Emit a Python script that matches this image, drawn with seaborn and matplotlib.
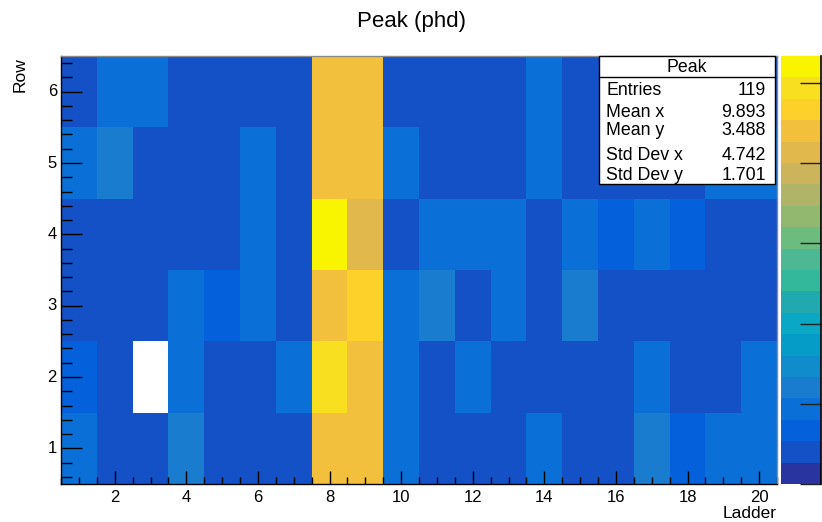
import numpy as np
import pandas as pd
import matplotlib
matplotlib.use("Agg")
import matplotlib.pyplot as plt
from matplotlib.colors import ListedColormap
from matplotlib.patches import Rectangle
from matplotlib.lines import Line2D
import seaborn as sns

plt.rcParams['font.family'] = ['Liberation Sans', 'DejaVu Sans']

# ---------------- data ----------------
ladders = list(range(1, 21))
rows = [1, 2, 3, 4, 5, 6]
nan = np.nan
row1 = [2.8, 1.2, 1.2, 3.6, 1.2, 1.2, 1.2, 13.2, 13.2, 2.8, 1.2, 1.2, 1.2, 2.8, 1.2, 1.2, 3.6, 2.0, 2.8, 2.8]
row2 = [2.0, 1.2, nan, 2.8, 1.2, 1.2, 2.8, 14.8, 13.2, 2.8, 1.2, 2.8, 1.2, 1.2, 1.2, 1.2, 2.8, 1.2, 1.2, 2.8]
row3 = [1.2, 1.2, 1.2, 2.8, 2.0, 2.8, 1.2, 13.2, 14.0, 2.8, 3.6, 1.2, 2.8, 1.2, 3.6, 1.2, 1.2, 1.2, 1.2, 1.2]
row4 = [1.2, 1.2, 1.2, 1.2, 1.2, 2.8, 1.2, 15.6, 12.4, 1.2, 2.8, 2.8, 2.8, 1.2, 2.8, 2.0, 2.8, 2.0, 1.2, 1.2]
row5 = [2.8, 3.6, 1.2, 1.2, 1.2, 2.8, 1.2, 13.2, 13.2, 2.8, 1.2, 1.2, 1.2, 2.8, 1.2, 1.2, 1.2, 1.2, 2.8, 2.8]
row6 = [1.2, 2.8, 2.8, 1.2, 1.2, 1.2, 1.2, 13.2, 13.2, 1.2, 1.2, 1.2, 1.2, 2.8, 1.2, 1.2, 1.2, 1.2, 1.2, 1.2]
z_min, z_max = 0.0, 16.0
palette_ticks = [0, 3, 6, 9, 12, 15]

x_major = [2, 4, 6, 8, 10, 12, 14, 16, 18, 20]
y_major = [1, 2, 3, 4, 5, 6]

stats_title = "Peak"
stats_names = ["Entries", "Mean x", "Mean y", "Std Dev x", "Std Dev y"]
stats_values = ["119", "9.893", "3.488", "4.742", "1.701"]

# ---------------- style ----------------
bird = ["#2a34a0", "#1450c6", "#0560dc", "#0a70d8", "#1a7ccf", "#108ccc", "#069cc8",
        "#0aa8c4", "#20aab0", "#34b89c", "#4cb894", "#6cbc80", "#92b870", "#b0b468",
        "#ccb45c", "#e0b84c", "#f2c03c", "#fdd02a", "#f8e020", "#f9f400"]
cmap = ListedColormap(bird)

W, H = 822, 522
fig = plt.figure(figsize=(W / 100, H / 100), dpi=100)
fig.patch.set_facecolor("white")
L, R, T, B = 61, 777, 56, 484
ax = fig.add_axes([L / W, 1 - B / H, (R - L) / W, (B - T) / H])
cax = fig.add_axes([781 / W, 1 - B / H, 40 / W, (B - T) / H])

df = pd.DataFrame([row1, row2, row3, row4, row5, row6], index=rows, columns=ladders)
sns.heatmap(df, ax=ax, cbar_ax=cax, cmap=cmap, vmin=z_min, vmax=z_max,
            linewidths=0, square=False)
ax.invert_yaxis()
ax.set_facecolor("white")

# axis ticks mapped from data values to heatmap cell positions
x0 = ladders[0]
y0 = rows[0]
ax.set_xticks([v - x0 + 0.5 for v in x_major])
ax.set_xticklabels([str(v) for v in x_major], rotation=0)
ax.set_xticks([v - x0 + 0.5 for v in np.arange(0.5, 20.51, 0.5)], minor=True)
ax.set_yticks([v - y0 + 0.5 for v in y_major])
ax.set_yticklabels([str(v) for v in y_major], rotation=0)
ax.set_yticks([v - y0 + 0.5 for v in np.arange(0.6, 6.41, 0.2)], minor=True)

ax.tick_params(axis='x', which='major', direction='in', length=9.4, width=1, pad=4.0,
               labelsize=12, colors='black')
ax.tick_params(axis='x', which='minor', direction='in', length=4.7, width=1)
ax.tick_params(axis='y', which='major', direction='in', length=15, width=1, pad=2.9,
               labelsize=12, colors='black')
ax.tick_params(axis='y', which='minor', direction='in', length=7.9, width=1)
ax.tick_params(which='both', top=False, right=False)

for name, s in ax.spines.items():
    s.set_visible(True)
    if name in ("left", "bottom"):
        s.set_color("black")
        s.set_linewidth(1.0)
    else:
        s.set_color("#8a8a8a")
        s.set_linewidth(1.0)

ax.set_xlabel("Ladder", fontsize=12.5)
ax.xaxis.label.set_ha("right")
ax.xaxis.label.set_va("center")
ax.xaxis.set_label_coords(1.0, -29 / (B - T))
ax.set_ylabel("Row", fontsize=12.5, loc="top")
ax.yaxis.set_label_coords(-(L - 28) / (R - L), 1 - 1 / (B - T))

# palette
cbar = ax.collections[0].colorbar
cbar.set_ticks(palette_ticks)
cbar.outline.set_visible(False)
cax.tick_params(direction='in', length=15, width=1, right=True, left=False,
                labelright=False, labelleft=False, color='#222222')
cax.plot([1, 1], [0, 1], transform=cax.transAxes, color='black', lw=1.2, clip_on=False)

# title
fig.text(0.5, 1 - 22 / H, "Peak (phd)", ha="center", va="center", fontsize=16)

# stats box
bx0, bx1, by0, by1 = 599, 775, 55.5, 183.5
fig.add_artist(Rectangle((bx0 / W, 1 - by1 / H), (bx1 - bx0) / W, (by1 - by0) / H,
                         transform=fig.transFigure, facecolor="white",
                         edgecolor="black", lw=1.0, zorder=10))
fig.add_artist(Line2D([bx0 / W, bx1 / W], [1 - 76.7 / H, 1 - 76.7 / H],
                      transform=fig.transFigure, color="black", lw=1.0, zorder=11))
fig.text((bx0 + bx1) / 2 / W, 1 - 72.5 / H, stats_title, ha="center", va="baseline",
         fontsize=12.8, zorder=12)
baselines = [95, 116.7, 135, 160, 180]
for nm, val, yb in zip(stats_names, stats_values, baselines):
    fig.text(606 / W, 1 - yb / H, nm, ha="left", va="baseline", fontsize=12.8, zorder=12)
    fig.text(765.7 / W, 1 - yb / H, val, ha="right", va="baseline", fontsize=12.8, zorder=12)

fig.savefig("out.png", dpi=100, facecolor="white")
